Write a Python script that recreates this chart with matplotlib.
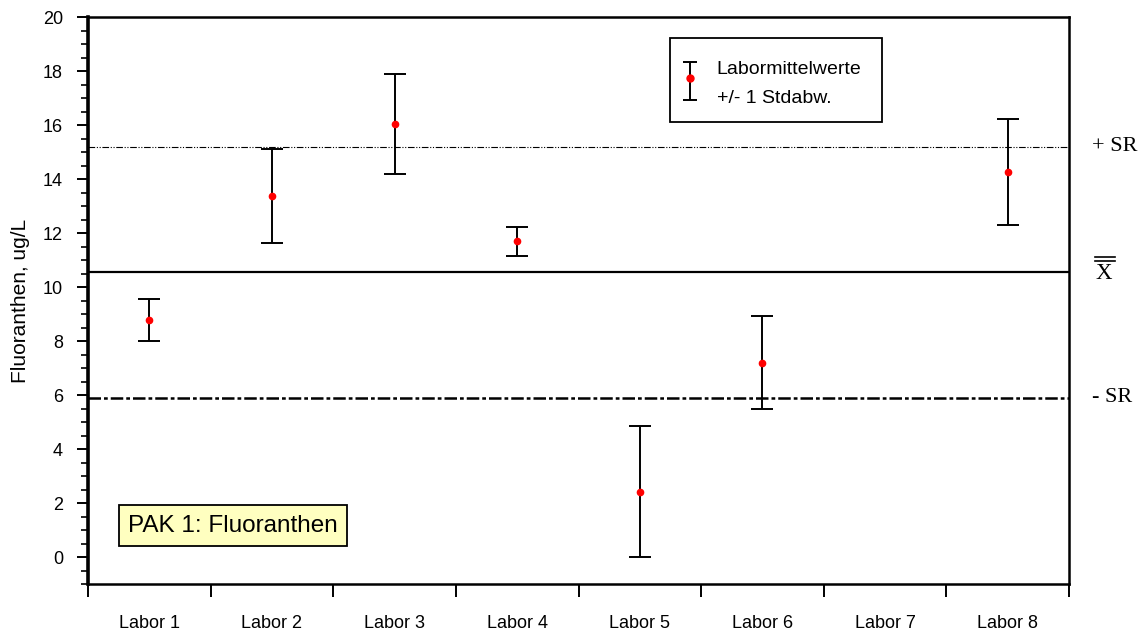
import numpy as np
import matplotlib.pyplot as plt
from matplotlib.ticker import MultipleLocator, FixedLocator, NullFormatter

labore = ["Labor 1", "Labor 2", "Labor 3", "Labor 4",
          "Labor 5", "Labor 6", "Labor 7", "Labor 8"]
# Labor 7 ohne Messwerte
mittelwerte = [8.77, 13.37, 16.05, 11.69, 2.42, 7.19, np.nan, 14.27]
stdabw = [0.78, 1.75, 1.85, 0.55, 2.42, 1.72, np.nan, 1.96]

gesamtmittel = 10.55
sr = 4.65

plt.rcParams['font.family'] = ['Liberation Sans', 'DejaVu Sans']

fig = plt.figure(figsize=(11.46, 6.32), dpi=100)
ax = fig.add_axes([0.0768, 0.0759, 0.856, 0.8972])

x = np.arange(len(labore)) + 0.5
ax.errorbar(x, mittelwerte, yerr=stdabw, fmt='none', ecolor='black',
            elinewidth=1.4, capsize=8, capthick=1.4, zorder=3)
ax.plot(x, mittelwerte, 'o', color='red', markersize=4.5, zorder=4)

# Bezugslinien: Gesamtmittel und +/- SR
ax.axhline(gesamtmittel + sr, color='black', lw=0.8, ls=(0, (6, 1.5, 1, 1.5, 1, 1.5)))
ax.axhline(gesamtmittel, color='black', lw=1.6, ls='-')
ax.axhline(gesamtmittel - sr, color='black', lw=1.8, ls=(0, (5, 1.2, 1.5, 1.2)))

ytr = ax.get_yaxis_transform()
ax.text(1.0234, gesamtmittel + sr, "+ SR", transform=ytr, va='center', ha='left',
        fontsize=16, family='Liberation Serif')
ax.text(1.0234, gesamtmittel - sr, "- SR", transform=ytr, va='center', ha='left',
        fontsize=16, family='Liberation Serif')
ax.text(1.027, gesamtmittel - 0.05, "X", transform=ytr, va='center', ha='left',
        fontsize=16.5, family='Liberation Serif')
for yb in (11.13, 10.98):
    ax.plot([1.027, 1.047], [yb, yb], transform=ytr, clip_on=False, color='black', lw=1.2)

ax.set_xlim(0, len(labore))
ax.set_ylim(-1, 20)
ax.xaxis.set_major_locator(FixedLocator(np.arange(len(labore) + 1)))
ax.xaxis.set_major_formatter(NullFormatter())
ax.xaxis.set_minor_locator(FixedLocator(x))
ax.set_xticklabels(labore, minor=True)
ax.tick_params(axis='x', which='major', direction='out', length=9, width=1.4)
ax.tick_params(axis='x', which='minor', length=0, pad=22, labelsize=13)

ax.yaxis.set_major_locator(FixedLocator(np.arange(0, 21, 2)))
ax.yaxis.set_minor_locator(MultipleLocator(0.5))
ax.tick_params(axis='y', which='major', direction='out', length=8, width=1.4,
               labelsize=13, pad=10)
ax.tick_params(axis='y', which='minor', direction='out', length=5, width=1.2)
ax.set_ylabel("Fluoranthen, ug/L", fontsize=15, labelpad=9)

for s in ax.spines.values():
    s.set_linewidth(1.8)
ax.spines['left'].set_linewidth(2.6)

# Legende
ax.add_patch(plt.Rectangle((0.593, 0.815), 0.216, 0.148, transform=ax.transAxes,
                           facecolor='white', edgecolor='black', lw=1.3, zorder=5))
ax.errorbar([0.614], [0.8875], yerr=[0.0335], fmt='none', ecolor='black',
            elinewidth=1.4, capsize=5, capthick=1.4, transform=ax.transAxes, zorder=6)
ax.plot([0.614], [0.892], 'o', color='red', markersize=5, transform=ax.transAxes, zorder=7)
ax.text(0.641, 0.907, "Labormittelwerte", transform=ax.transAxes,
        fontsize=14, va='center', ha='left', zorder=6)
ax.text(0.641, 0.857, "+/- 1 Stdabw.", transform=ax.transAxes,
        fontsize=14, va='center', ha='left', zorder=6)

ax.text(0.326, 1.16, "PAK 1: Fluoranthen", fontsize=17.5, va='center', ha='left',
        bbox=dict(boxstyle='square,pad=0.38', facecolor='#ffffc0', edgecolor='black', lw=1.3))

fig.savefig("out.png", dpi=100)
